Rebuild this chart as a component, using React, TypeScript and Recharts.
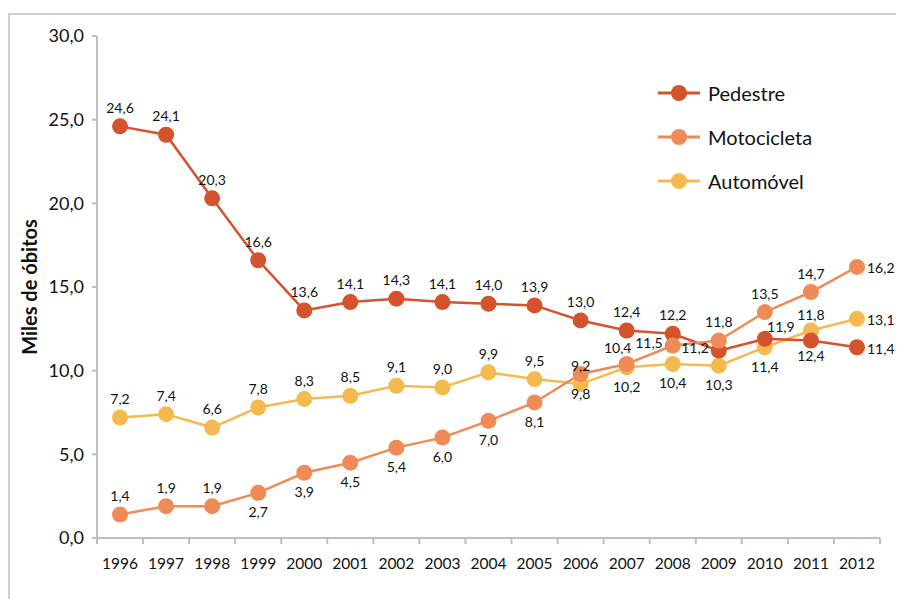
import React from 'react';
import { LineChart, Line, XAxis, YAxis, Legend, LabelList } from 'recharts';

const years = [1996, 1997, 1998, 1999, 2000, 2001, 2002, 2003, 2004, 2005, 2006, 2007, 2008, 2009, 2010, 2011, 2012];
const pedestre = [24.6, 24.1, 20.3, 16.6, 13.6, 14.1, 14.3, 14.1, 14.0, 13.9, 13.0, 12.4, 12.2, 11.2, 11.9, 11.8, 11.4];
const motocicleta = [1.4, 1.9, 1.9, 2.7, 3.9, 4.5, 5.4, 6.0, 7.0, 8.1, 9.8, 10.4, 11.5, 11.8, 13.5, 14.7, 16.2];
const automovel = [7.2, 7.4, 6.6, 7.8, 8.3, 8.5, 9.1, 9.0, 9.9, 9.5, 9.2, 10.2, 10.4, 10.3, 11.4, 12.4, 13.1];
const yTicks = [0, 5, 10, 15, 20, 25, 30];

// where each value label sits relative to its dot
type Pos = 'a' | 'b' | 'l' | 'r' | 'ar' | 'al' | 'af' | 'bf';
const pedestrePos: Pos[] = ['a', 'a', 'a', 'a', 'a', 'a', 'a', 'a', 'a', 'a', 'a', 'a', 'a', 'l', 'ar', 'af', 'r'];
const motoPos: Pos[] = ['a', 'a', 'a', 'b', 'b', 'b', 'b', 'b', 'b', 'b', 'b', 'al', 'l', 'a', 'a', 'a', 'r'];
const autoPos: Pos[] = ['a', 'a', 'a', 'a', 'a', 'a', 'a', 'a', 'a', 'a', 'a', 'b', 'b', 'b', 'b', 'bf', 'r'];

const COLORS = { pedestre: '#D4522C', moto: '#EF8B57', auto: '#F5BA4F' };
const AXIS = '#bfbfbf';
const FONT = 'Lato, "Open Sans", sans-serif';

const data = years.map((year, i) => ({
  year,
  pedestre: pedestre[i],
  motocicleta: motocicleta[i],
  automovel: automovel[i],
}));

const xTicks = [...years.map((y) => y - 0.5), ...years, years[years.length - 1] + 0.5].sort((a, b) => a - b);

const fmt = (v: number) => v.toFixed(1).replace('.', ',');

const OFFS: Record<Pos, [number, number, 'middle' | 'end' | 'start']> = {
  a: [0, -19, 'middle'],
  b: [0, 19, 'middle'],
  l: [-10, -3, 'end'],
  r: [10, 1, 'start'],
  ar: [16, -12, 'middle'],
  al: [-9, -16, 'middle'],
  af: [0, -26, 'middle'],
  bf: [0, 25, 'middle'],
};

const makeLabel = (positions: Pos[]) => (props: any) => {
  const { x, y, value, index } = props;
  const [dx, dy, anchor] = OFFS[positions[index] ?? 'a'];
  return (
    <text
      x={x + dx}
      y={y + dy}
      textAnchor={anchor}
      dominantBaseline="central"
      fontSize={14}
      fontFamily={FONT}
      fill="#111"
    >
      {fmt(value)}
    </text>
  );
};

const XTick = (props: any) => {
  const { x, y, payload } = props;
  const v = payload.value;
  if (Number.isInteger(v)) {
    return (
      <text x={x} y={y} dy={31} textAnchor="middle" fontSize={15.5} fontFamily={FONT} fill="#111">
        {v}
      </text>
    );
  }
  return <line x1={x} x2={x} y1={y} y2={y + 6} stroke={AXIS} strokeWidth={2} />;
};

const legendItems = [
  { name: 'Pedestre', color: COLORS.pedestre },
  { name: 'Motocicleta', color: COLORS.moto },
  { name: 'Automóvel', color: COLORS.auto },
];

const LegendBox = () => (
  <div style={{ fontFamily: FONT }}>
    {legendItems.map((item) => (
      <div key={item.name} style={{ display: 'flex', alignItems: 'center', height: 44 }}>
        <svg width={44} height={20}>
          <line x1={0} x2={42} y1={10} y2={10} stroke={item.color} strokeWidth={3} />
          <circle cx={21} cy={10} r={8} fill={item.color} />
        </svg>
        <span style={{ marginLeft: 6, fontSize: 20, color: '#111' }}>{item.name}</span>
      </div>
    ))}
  </div>
);

export default function App() {
  return (
    <div
      style={{
        marginTop: 5,
        borderTop: '2px solid #cfcfcf',
        borderLeft: '2px solid #cfcfcf',
        width: 900,
        height: 590,
      }}
    >
      <LineChart
        width={890}
        height={580}
        data={data}
        margin={{ top: 21, right: 20, left: 27, bottom: 27 }}
        style={{ fontFamily: FONT }}
      >
        <XAxis
          dataKey="year"
          type="number"
          domain={[years[0] - 0.5, years[years.length - 1] + 0.5]}
          ticks={xTicks}
          interval={0}
          tickLine={false}
          tickSize={0}
          tickMargin={0}
          axisLine={{ stroke: AXIS, strokeWidth: 2 }}
          tick={<XTick />}
          height={30}
        />
        <YAxis
          domain={[0, 30]}
          ticks={yTicks}
          tickFormatter={fmt}
          tickSize={5}
          tickMargin={8}
          width={60}
          tickLine={{ stroke: AXIS, strokeWidth: 2 }}
          axisLine={{ stroke: AXIS, strokeWidth: 2 }}
          tick={{ fontSize: 18, fill: '#111', fontFamily: FONT }}
          label={{
            value: 'Miles de óbitos',
            angle: -90,
            position: 'insideLeft',
            offset: -7,
            style: { textAnchor: 'middle', fontSize: 20, fontWeight: 700, fill: '#111', fontFamily: FONT },
          }}
        />
        <Legend
          layout="vertical"
          align="center"
          verticalAlign="middle"
          content={<LegendBox />}
          wrapperStyle={{ position: 'absolute', left: 648, top: 56, width: 220 }}
        />
        <Line
          dataKey="automovel"
          name="Automóvel"
          stroke={COLORS.auto}
          strokeWidth={2.5}
          dot={{ r: 8, fill: COLORS.auto, stroke: 'none' }}
          activeDot={false}
          isAnimationActive={false}
        >
          <LabelList dataKey="automovel" content={makeLabel(autoPos)} />
        </Line>
        <Line
          dataKey="pedestre"
          name="Pedestre"
          stroke={COLORS.pedestre}
          strokeWidth={2.5}
          dot={{ r: 8, fill: COLORS.pedestre, stroke: 'none' }}
          activeDot={false}
          isAnimationActive={false}
        >
          <LabelList dataKey="pedestre" content={makeLabel(pedestrePos)} />
        </Line>
        <Line
          dataKey="motocicleta"
          name="Motocicleta"
          stroke={COLORS.moto}
          strokeWidth={2.5}
          dot={{ r: 8, fill: COLORS.moto, stroke: 'none' }}
          activeDot={false}
          isAnimationActive={false}
        >
          <LabelList dataKey="motocicleta" content={makeLabel(motoPos)} />
        </Line>
      </LineChart>
    </div>
  );
}
